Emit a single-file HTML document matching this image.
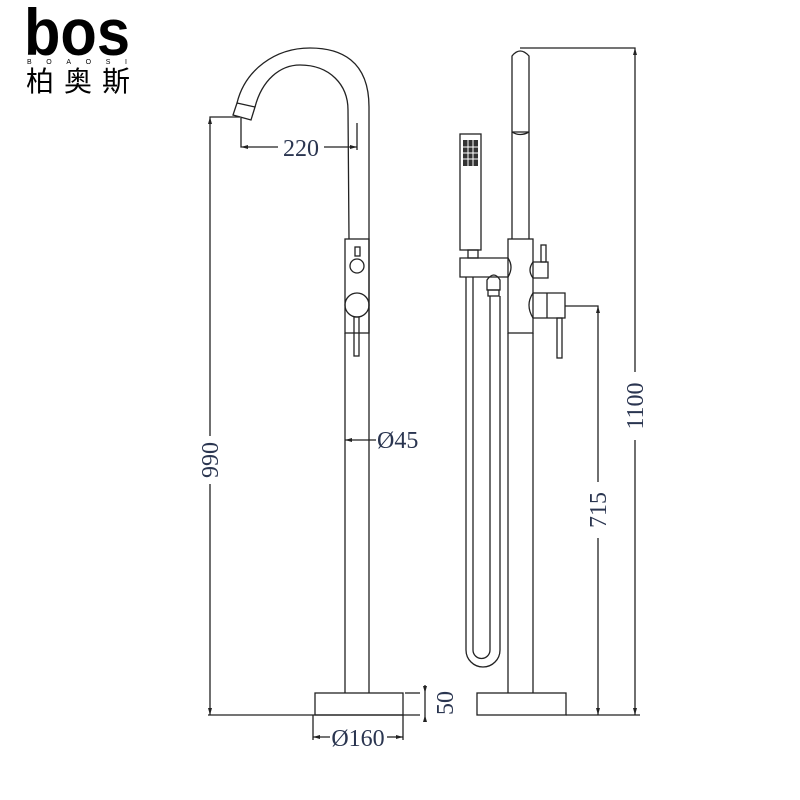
<!DOCTYPE html>
<html><head><meta charset="utf-8"><style>
html,body{margin:0;padding:0;background:#fff;}
svg{display:block}
.t{font-family:"Liberation Serif",serif;font-size:24px;fill:#2a3550;}
</style></head><body>
<svg width="800" height="800" viewBox="0 0 800 800" xmlns="http://www.w3.org/2000/svg">
<rect width="800" height="800" fill="#fff"/>
<!-- logo -->
<text x="24" y="55" font-family="Liberation Sans,sans-serif" font-weight="bold" font-size="66" fill="#000" textLength="106" lengthAdjust="spacingAndGlyphs">bos</text>
<text x="27" y="64" font-family="Liberation Sans,sans-serif" font-size="7" fill="#000" textLength="100" lengthAdjust="spacing">BOAOSI</text>
<text x="26" y="91" font-family="Noto Sans CJK SC,sans-serif" font-size="28" fill="#000" textLength="104" lengthAdjust="spacing">柏奥斯</text>

<g fill="none" stroke="#222" stroke-width="1.3">
<!-- LEFT faucet -->
<path d="M369 333 L369 107 C369 60 340 48 310 48 C275 48 245 70 237 103"/>
<path d="M349 239 L348 110 C348 85 330 65 300 65 C280 65 262 80 255 107"/>
<path d="M237 103 L255 107 L251 120 L233 115 Z"/>
<rect x="345" y="239" width="24" height="94"/>
<rect x="355" y="247" width="5" height="9"/>
<circle cx="357" cy="266" r="7"/>
<circle cx="357" cy="305" r="12"/>
<rect x="354" y="317" width="5" height="39"/>
<line x1="345" y1="333" x2="345" y2="693"/>
<line x1="369" y1="333" x2="369" y2="693"/>
<rect x="315" y="693" width="88" height="22"/>
<!-- dims left -->
<polyline points="241,118 241,147 357,147"/>
<line x1="357" y1="123" x2="357" y2="150"/>
<polyline points="240,117 210,117 210,715"/>
<line x1="208" y1="715" x2="420" y2="715"/>
<line x1="345" y1="440" x2="376" y2="440"/>
<polyline points="405,693 420,693"/>
<line x1="425" y1="685" x2="425" y2="720"/>
<line x1="313" y1="715" x2="313" y2="740"/>
<line x1="403" y1="715" x2="403" y2="740"/>
<line x1="313" y1="737" x2="330" y2="737"/>
<line x1="387" y1="737" x2="403" y2="737"/>

<!-- RIGHT -->
<path d="M512 239 L512 56 Q520 46 529 56 L529 239"/>
<path d="M512 132 Q520 137 529 132"/>
<line x1="512" y1="132" x2="529" y2="132"/>
<rect x="508" y="239" width="25" height="94"/>
<line x1="508" y1="333" x2="508" y2="693"/>
<line x1="533" y1="333" x2="533" y2="693"/>
<rect x="460" y="134" width="21" height="116"/>
<rect x="468" y="250" width="10" height="8"/>
<path d="M508 258 L460 258 L460 277 L508 277 Q514 267 508 258"/>
<path d="M487 290 L487 280 Q494 270 500 280 L500 290 Z"/>
<rect x="488" y="290" width="11" height="6"/>
<path d="M466 277 L466 650 A17 17 0 0 0 500 650 L500 296"/>
<path d="M473 277 L473 650 A8.5 8.5 0 0 0 490 650 L490 296"/>
<path d="M533 262 L548 262 L548 278 L533 278 Q527 270 533 262"/>
<rect x="541" y="245" width="5" height="17"/>
<path d="M533 293 L565 293 L565 318 L533 318 Q525 305 533 293"/>
<line x1="547" y1="293" x2="547" y2="318"/>
<rect x="557" y="318" width="5" height="40"/>
<rect x="477" y="693" width="89" height="22"/>
<line x1="566" y1="715" x2="640" y2="715"/>
<polyline points="565,306 598,306 598,715"/>
<polyline points="520,48 635,48 635,715"/>
</g>
<!-- shower grid -->
<g fill="#333">
<rect x="463" y="140" width="15" height="26"/>
</g>
<g stroke="#fff" stroke-width="1">
<line x1="468" y1="140" x2="468" y2="166"/><line x1="473" y1="140" x2="473" y2="166"/>
<line x1="463" y1="147" x2="478" y2="147"/><line x1="463" y1="153" x2="478" y2="153"/><line x1="463" y1="159" x2="478" y2="159"/>
</g>
<!-- arrows -->
<g fill="#222">
<path d="M241 147 l7 -2 v4z"/>
<path d="M357 147 l-7 -2 v4z"/>
<path d="M210 117 l-2 7 h4z"/>
<path d="M210 715 l-2 -7 h4z"/>
<path d="M345 440 l7 -2 v4z"/>
<path d="M425 693 l-2 -7 h4z"/>
<path d="M425 715 l-2 7 h4z"/>
<path d="M313 737 l7 -2 v4z"/>
<path d="M403 737 l-7 -2 v4z"/>
<path d="M598 306 l-2 7 h4z"/>
<path d="M598 715 l-2 -7 h4z"/>
<path d="M635 48 l-2 7 h4z"/>
<path d="M635 715 l-2 -7 h4z"/>
</g>
<!-- text -->
<rect x="278" y="136" width="46" height="22" fill="#fff"/>
<text class="t" x="301" y="156" text-anchor="middle">220</text>
<text class="t" x="377" y="448">Ø45</text>
<text class="t" x="358" y="746" text-anchor="middle">Ø160</text>
<rect x="198" y="436" width="24" height="48" fill="#fff"/>
<text class="t" transform="translate(218,460) rotate(-90)" text-anchor="middle">990</text>
<text class="t" transform="translate(453,703) rotate(-90)" text-anchor="middle">50</text>
<rect x="586" y="482" width="24" height="56" fill="#fff"/>
<text class="t" transform="translate(606,510) rotate(-90)" text-anchor="middle">715</text>
<rect x="623" y="372" width="24" height="68" fill="#fff"/>
<text class="t" transform="translate(643,406) rotate(-90)" text-anchor="middle">1100</text>
</svg>
</body></html>
